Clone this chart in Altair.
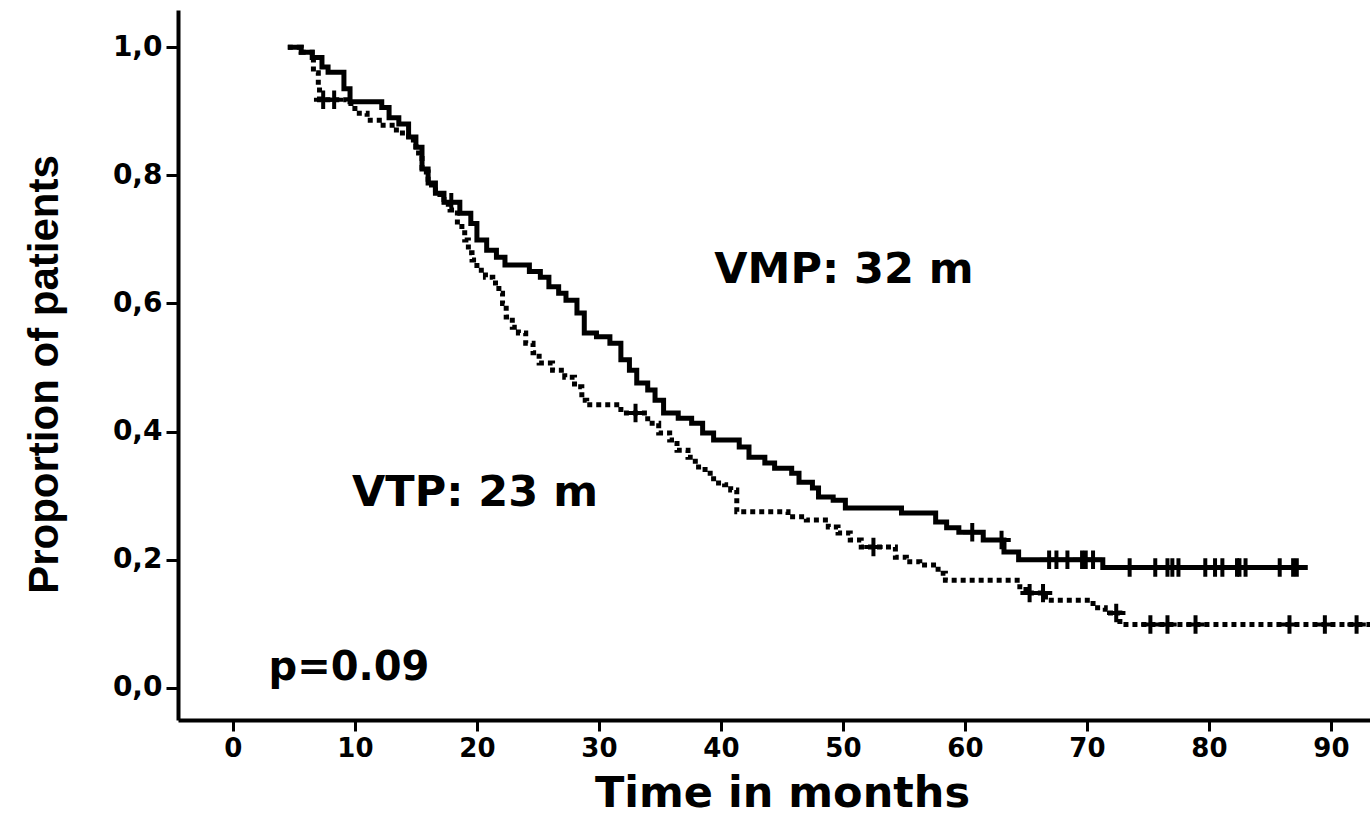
import altair as alt
import pandas as pd

# ---- data ----
vmp_t = [4.5, 5.6, 6.5, 7.3, 7.8, 9.1, 9.6, 12.2, 12.8, 13.6, 14.4, 15.0, 15.5, 16.0, 16.6, 17.3,
         18.6, 19.5, 20.0, 20.8, 21.6, 22.3, 24.3, 25.2, 25.9, 26.7, 27.3, 28.2, 28.8, 29.8,
         30.9, 31.8, 32.5, 33.1, 34.0, 34.6, 35.3, 36.5, 37.6, 38.5, 39.4, 41.5, 42.3, 43.6,
         44.4, 45.8, 46.4, 47.5, 48.0, 49.2, 50.2, 54.8, 57.6, 58.5, 59.5, 61.5, 63.2, 64.4,
         71.3, 88.1]
vmp_s = [1.000, 0.992, 0.984, 0.969, 0.961, 0.935, 0.915, 0.906, 0.890, 0.880, 0.860, 0.844, 0.810,
         0.788, 0.772, 0.758, 0.741, 0.725, 0.699, 0.683, 0.672, 0.660, 0.650, 0.641, 0.626,
         0.616, 0.605, 0.585, 0.554, 0.548, 0.538, 0.512, 0.496, 0.476, 0.465, 0.449, 0.429,
         0.421, 0.413, 0.398, 0.387, 0.376, 0.360, 0.351, 0.343, 0.335, 0.321, 0.312, 0.298,
         0.293, 0.281, 0.273, 0.259, 0.250, 0.243, 0.231, 0.212, 0.200, 0.188, 0.188]
vmp_cens = [17.9, 60.6, 63.0, 66.9, 67.5, 68.4, 69.6, 69.9, 70.5, 73.5, 75.6, 76.6, 77.0,
            77.5, 79.7, 80.5, 81.1, 82.3, 82.5, 83.0, 85.8, 86.9, 87.2]

vtp_t = [4.5, 5.6, 6.5, 6.6, 7.0, 7.1, 9.3, 10.0, 11.0, 12.0, 13.4, 14.4, 15.0, 15.5, 16.0, 16.6,
         17.3, 17.8, 18.4, 19.0, 19.3, 19.6, 20.0, 20.7, 21.3, 21.8, 22.1, 22.4, 22.9, 23.4,
         24.0, 24.6, 25.1, 26.2, 27.2, 28.0, 28.6, 29.0, 31.8, 34.0, 34.9, 35.8, 36.4, 37.3,
         37.9, 38.7, 39.4, 40.3, 40.8, 41.3, 45.5, 47.0, 48.8, 49.6, 50.6, 51.5, 54.3, 55.2,
         56.3, 57.8, 58.4, 64.5, 65.0, 66.6, 70.5, 71.5, 72.7, 93.5]
vtp_s = [1.000, 0.992, 0.984, 0.960, 0.940, 0.918, 0.912, 0.897, 0.886, 0.878, 0.866, 0.855, 0.835,
         0.805, 0.785, 0.770, 0.755, 0.746, 0.720, 0.699, 0.679, 0.668, 0.652, 0.641, 0.632,
         0.616, 0.600, 0.579, 0.563, 0.554, 0.538, 0.523, 0.507, 0.496, 0.485, 0.470, 0.449,
         0.442, 0.429, 0.413, 0.398, 0.387, 0.371, 0.360, 0.345, 0.335, 0.320, 0.317, 0.309,
         0.275, 0.267, 0.262, 0.251, 0.242, 0.231, 0.220, 0.204, 0.197, 0.192, 0.179, 0.168,
         0.158, 0.148, 0.137, 0.125, 0.117, 0.099, 0.099]
vtp_cens = [7.4, 8.3, 33.0, 52.5, 65.3, 66.4, 72.4, 75.2, 76.6, 78.9, 86.6, 89.5, 92.1]

x_ticks = [0, 10, 20, 30, 40, 50, 60, 70, 80, 90]
y_ticks = [0.0, 0.2, 0.4, 0.6, 0.8, 1.0]
annotations = ["VMP: 32 m", "VTP: 23 m", "p=0.09"]


def surv_at(ts, ss, t):
    val = ss[0]
    for ti, si in zip(ts, ss):
        if ti <= t:
            val = si
    return val


vmp_df = pd.DataFrame({"t": vmp_t, "s": vmp_s})
vtp_df = pd.DataFrame({"t": vtp_t, "s": vtp_s})
vmp_c = pd.DataFrame({"t": vmp_cens, "s": [surv_at(vmp_t, vmp_s, t) for t in vmp_cens]})
vtp_c = pd.DataFrame({"t": vtp_cens, "s": [surv_at(vtp_t, vtp_s, t) for t in vtp_cens]})

FONT = "DejaVu Sans"

xscale = alt.Scale(domain=[-4.5, 93.2], nice=False, zero=False)
yscale = alt.Scale(domain=[-0.05, 1.058], nice=False, zero=False)

xenc = alt.X("t:Q", scale=xscale, axis=alt.Axis(
    values=x_ticks, title="Time in months", grid=False,
    domainColor="black", domainWidth=4, tickColor="black", tickWidth=3, tickSize=11,
    labelFont=FONT, labelFontSize=26, labelFontWeight="bold", labelColor="black",
    labelPadding=4, labelFlush=False,
    titleFont=FONT, titleFontSize=43, titleFontWeight="bold", titleColor="black",
    titleX=604, titleY=86, titleBaseline="alphabetic"))
yenc = alt.Y("s:Q", scale=yscale, axis=alt.Axis(
    values=y_ticks, title="Proportion of patients", grid=False,
    labelExpr="replace(format(datum.value, '.1f'), '.', ',')",
    domainColor="black", domainWidth=4, tickColor="black", tickWidth=3, tickSize=12,
    labelFont=FONT, labelFontSize=28, labelFontWeight="bold", labelColor="black",
    labelPadding=4, labelFlush=False,
    titleFont="Liberation Sans", titleFontSize=42, titleFontWeight="bold", titleColor="black",
    titleX=-134, titleY=364, titleBaseline="middle", titleAngle=-90))

vmp_line = alt.Chart(vmp_df).mark_line(
    interpolate="step-after", color="black", strokeWidth=5, clip=True
).encode(x=xenc, y=yenc, order="t:Q")

vtp_line = alt.Chart(vtp_df).mark_line(
    interpolate="step-after", color="black", strokeWidth=5, strokeDash=[5, 4], clip=True
).encode(x=alt.X("t:Q", scale=xscale), y=alt.Y("s:Q", scale=yscale), order="t:Q")

cross = "M-1,0L1,0M0,-1L0,1"
vmp_pts = alt.Chart(vmp_c).mark_point(
    shape=cross, size=340, color="black", strokeWidth=4, filled=False, opacity=1, clip=True
).encode(x=alt.X("t:Q", scale=xscale), y=alt.Y("s:Q", scale=yscale))
vtp_pts = alt.Chart(vtp_c).mark_point(
    shape=cross, size=340, color="black", strokeWidth=4, filled=False, opacity=1, clip=True
).encode(x=alt.X("t:Q", scale=xscale), y=alt.Y("s:Q", scale=yscale))

ann_pos = [(844 - 178, 270 - 10), (475 - 178, 493 - 10), (349 - 178, 668 - 10)]
ann_size = [43, 43, 40]
texts = []
for lab, (px, py), fs in zip(annotations, ann_pos, ann_size):
    texts.append(alt.Chart(pd.DataFrame({"label": [lab]})).mark_text(
        font=FONT, fontSize=fs, fontWeight="bold", color="black",
        align="center", baseline="middle"
    ).encode(text="label:N", x=alt.value(px), y=alt.value(py)))

chart = alt.layer(vmp_line, vtp_line, vmp_pts, vtp_pts, *texts).properties(
    width=1192, height=710,
    autosize=alt.AutoSizeParams(type="none"),
    padding={"left": 178, "top": 10, "right": 0, "bottom": 98},
    background="white",
).configure_view(stroke=None)

chart.save("out.html", embed_options={"renderer": "svg", "actions": False})
